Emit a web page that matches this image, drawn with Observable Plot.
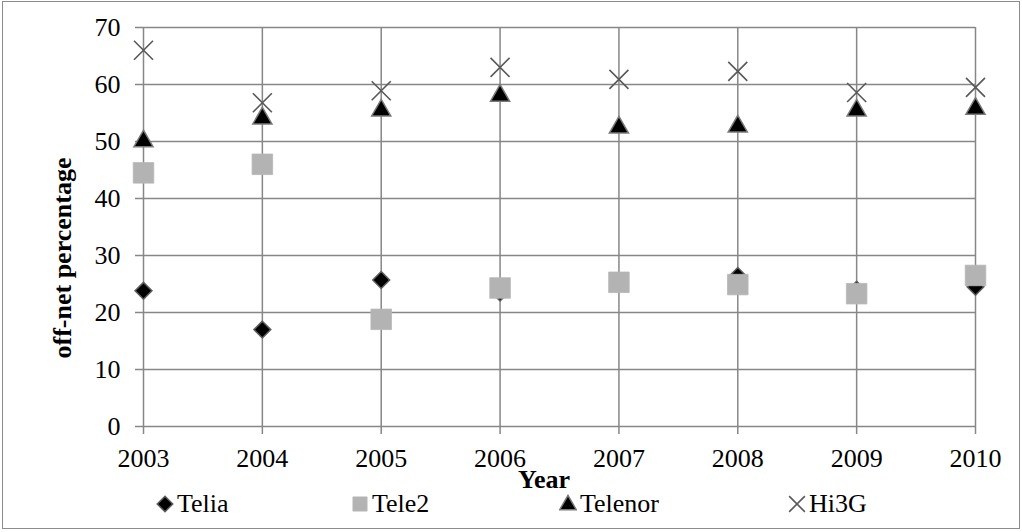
<!DOCTYPE html>
<html>
<head>
<meta charset="utf-8">
<script src="https://cdn.jsdelivr.net/npm/d3@7"></script>
<script src="https://cdn.jsdelivr.net/npm/@observablehq/plot@0.6"></script>
<style>
  html, body { margin: 0; padding: 0; background: #fff; }
  #chart { position: relative; width: 1022px; height: 532px; overflow: hidden;
           font-family: "Liberation Serif", "Times New Roman", serif; color: #000; }
  #frame { position: absolute; left: 2px; top: 1px; width: 1018px; height: 528px;
           border: 1.5px solid #8c8c8c; box-sizing: border-box; }
  #plot { position: absolute; left: 0; top: 0; }
  .ytitle { position: absolute; left: 63px; top: 258px; font-size: 26px; font-weight: bold;
            white-space: nowrap; transform: translate(-50%, -50%) rotate(-90deg); }
  .xtitle { position: absolute; left: 544px; top: 480px; font-size: 26px; font-weight: bold;
            white-space: nowrap; transform: translate(-50%, -50%); }
  .legend-item { position: absolute; top: 504px; transform: translateY(-50%);
                 display: flex; align-items: center; font-size: 26px; white-space: nowrap; }
  .legend-item svg { display: block; margin-right: 3px; }
</style>
</head>
<body>
<div id="chart">
  <div id="frame"></div>
  <div id="plot"></div>
  <div class="ytitle">off-net percentage</div>
  <div class="xtitle">Year</div>
</div>
<script>
// Off-net share of traffic per operator, 2003–2010
const years   = [2003, 2004, 2005, 2006, 2007, 2008, 2009, 2010];
const telia   = [23.8, 17.0, 25.7, 23.5, 25.3, 26.4, 24.0, 24.5];
const tele2   = [44.5, 46.0, 18.8, 24.3, 25.3, 24.9, 23.3, 26.5];
const telenor = [49.7, 53.7, 55.1, 57.7, 52.1, 52.3, 55.1, 55.4];
const hi3g    = [66.0, 56.8, 58.9, 63.0, 60.9, 62.3, 58.6, 59.5];
const yTicks  = [0, 10, 20, 30, 40, 50, 60, 70];
const seriesNames = ["Telia", "Tele2", "Telenor", "Hi3G"];

// Marker styles per series (drawn in this order, later on top)
const styles = {
  Telia:   {symbol: "diamond2", r: 7.6, fill: "#000", stroke: "#5f5f5f", strokeWidth: 1.5},
  Tele2:   {symbol: "square",   r: 11.6, fill: "#b3b3b3", stroke: "#b8b8b8", strokeWidth: 0.8},
  Telenor: {symbol: "triangle", r: 7.1, fill: "#000", stroke: "#7a7a7a", strokeWidth: 1.5, dy: -2},
  Hi3G:    {symbol: "times",    r: 8.7, fill: "none", stroke: "#595959", strokeWidth: 1.6}
};
const values = {Telia: telia, Tele2: tele2, Telenor: telenor, Hi3G: hi3g};
const seriesData = name => years.map((year, i) => ({year, value: values[name][i]}));

const gridColor = "#878787";

const chart = Plot.plot({
  width: 1022,
  height: 495,
  marginLeft: 143,
  marginRight: 47,
  marginTop: 27,
  marginBottom: 69,
  style: {fontFamily: '"Liberation Serif", "Times New Roman", serif', fontSize: "26px", color: "#000", background: "transparent", overflow: "visible"},
  x: {type: "linear", domain: [2003, 2010]},
  y: {domain: [0, 70]},
  marks: [
    Plot.gridY(yTicks, {stroke: gridColor, strokeOpacity: 1, strokeWidth: 1.5}),
    Plot.gridX(years, {stroke: gridColor, strokeOpacity: 1, strokeWidth: 1.5}),
    Plot.axisY(yTicks, {tickSize: 8, tickPadding: 15, stroke: gridColor, strokeWidth: 1.5, label: null, fontSize: 26, fill: "#000"}),
    Plot.axisX(years, {tickSize: 8, tickPadding: 14, stroke: gridColor, strokeWidth: 1.5, tickFormat: "d", label: null, fontSize: 26, fill: "#000"}),
    ...seriesNames.map(name => Plot.dot(seriesData(name), {x: "year", y: "value", ...styles[name]}))
  ]
});
document.getElementById("plot").appendChild(chart);

// Legend below the chart
const legendLeft = {Telia: 156, Tele2: 351, Telenor: 559, Hi3G: 788};
const legendSize = {Telia: 7, Tele2: 8, Telenor: 6.2, Hi3G: 7.2};
const chartDiv = document.getElementById("chart");
for (const name of seriesNames) {
  const s = styles[name];
  const item = document.createElement("div");
  item.className = "legend-item";
  item.style.left = legendLeft[name] + "px";
  const svg = d3.create("svg").attr("width", 18).attr("height", 20);
  const r = legendSize[name];
  const symbolType = {diamond2: d3.symbolDiamond2, square: d3.symbolSquare, triangle: d3.symbolTriangle, times: d3.symbolTimes}[s.symbol];
  svg.append("path")
    .attr("transform", `translate(9,${name === "Telenor" ? 11 : 10})`)
    .attr("d", d3.symbol(symbolType, r * r * Math.PI)())
    .attr("fill", s.fill)
    .attr("stroke", s.stroke)
    .attr("stroke-width", s.strokeWidth);
  item.appendChild(svg.node());
  const label = document.createElement("span");
  label.textContent = name;
  item.appendChild(label);
  chartDiv.appendChild(item);
}
</script>
</body>
</html>
